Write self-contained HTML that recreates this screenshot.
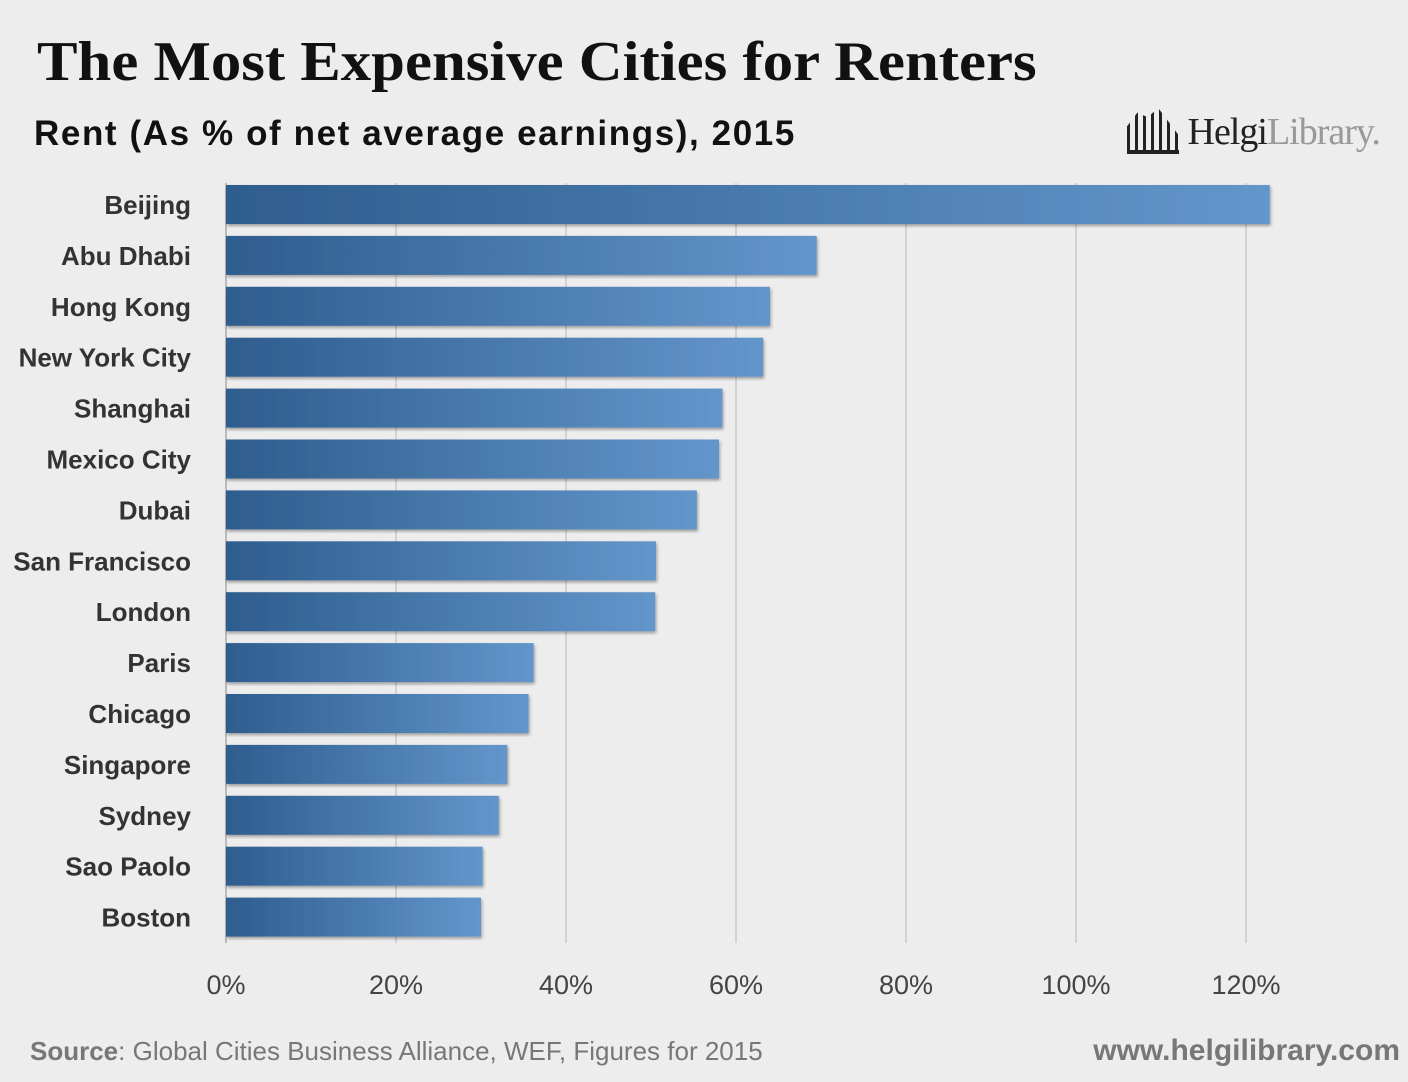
<!DOCTYPE html>
<html><head><meta charset="utf-8"><style>
body{margin:0;width:1408px;height:1082px;background:#ededed;overflow:hidden;font-family:"Liberation Sans",sans-serif;position:relative}
.t{position:absolute;white-space:nowrap}
</style></head><body>
<div class="t" style="left:37px;top:30px;font-family:'Liberation Serif',serif;font-weight:bold;font-size:56px;color:#111;transform:scaleX(1.085);transform-origin:0 0">The Most Expensive Cities for Renters</div>
<div class="t" style="left:34px;top:114px;font-size:35px;font-weight:bold;letter-spacing:1.6px;color:#111">Rent (As % of net average earnings), 2015</div>
<div class="t" style="left:1127px;top:108px;font-family:'Liberation Serif',serif;font-size:38px;letter-spacing:-1px">
<span style="display:inline-block;width:52px;height:42px;vertical-align:-10px;border-bottom:4px solid #222;background:repeating-linear-gradient(90deg,#222 0 3px,transparent 3px 8px);clip-path:polygon(0 40%,20% 10%,40% 20%,60% 0,80% 30%,100% 60%,100% 100%,0 100%)"></span><span style="color:#222"> Helgi</span><span style="color:#999">Library.</span></div>
<svg id="c" width="1408" height="1082" style="position:absolute;left:0;top:0">
<defs><linearGradient id="g" x1="0" x2="1"><stop offset="0" stop-color="#2e5d8e"/><stop offset="1" stop-color="#6396cb"/></linearGradient>
<filter id="s"><feDropShadow dx="1" dy="2" stdDeviation="1.5" flood-opacity="0.35"/></filter></defs>
</svg>
<div class="t" style="left:30px;top:1036px;font-size:26px;color:#777"><b>Source</b>: Global Cities Business Alliance, WEF, Figures for 2015</div>
<div class="t" style="right:8px;top:1034px;font-size:30px;color:#777;font-weight:bold">www.helgilibrary.com</div>
<script>
const cities=["Beijing","Abu Dhabi","Hong Kong","New York City","Shanghai","Mexico City","Dubai","San Francisco","London","Paris","Chicago","Singapore","Sydney","Sao Paolo","Boston"];
const values=[122.8,69.5,64.0,63.2,58.4,58.0,55.4,50.6,50.5,36.2,35.6,33.1,32.1,30.2,30.0];
const ticks=[0,20,40,60,80,100,120];
const svg=document.getElementById('c'),NS='http://www.w3.org/2000/svg';
const x=v=>226+v*8.5, y=i=>185+i*50.9;
function mk(t,a){const e=document.createElementNS(NS,t);for(const k in a)e.setAttribute(k,a[k]);svg.appendChild(e);return e;}
ticks.forEach(t=>{
 const l=mk('line',{x1:x(t),x2:x(t),y1:183,y2:943,stroke:t?'#d2d2d2':'#bbb','stroke-width':2});
 
 
 const tx=mk('text',{x:x(t),y:994,'text-anchor':'middle','font-size':27,fill:'#444','font-family':'Liberation Sans, sans-serif'});
 tx.textContent=t+'%';
 
 
});
cities.forEach((c,i)=>{
 const r=mk('rect',{x:x(0),y:y(i),width:x(values[i])-x(0),height:39,fill:'url(#g)',filter:'url(#s)'});
 
 
 const tx=mk('text',{x:191,y:y(i)+29,'text-anchor':'end','font-size':26,'font-weight':'bold',fill:'#333','font-family':'Liberation Sans, sans-serif'});
 tx.textContent=c;
 
 
});
</script>
</body></html>
